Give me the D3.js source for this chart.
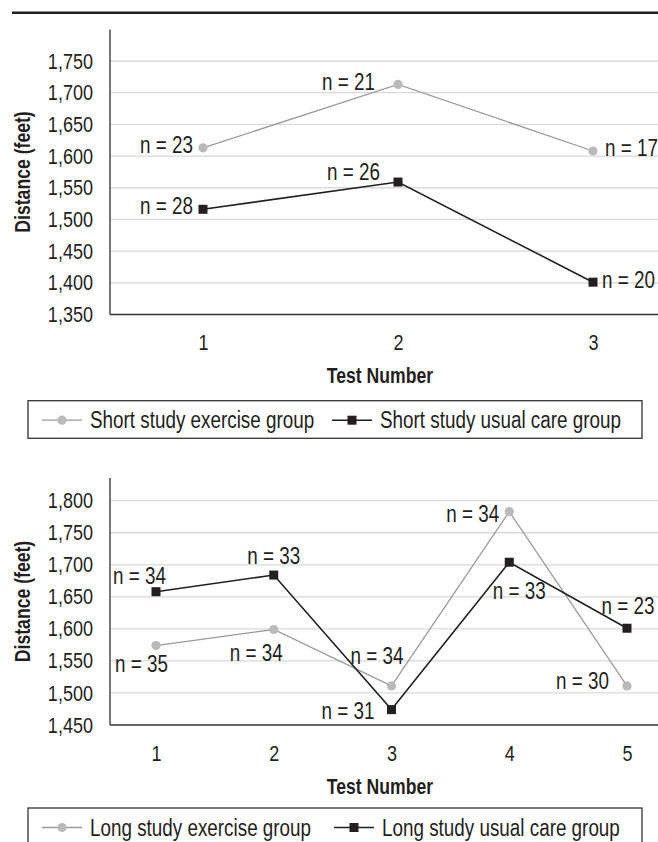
<!DOCTYPE html>
<html>
<head>
<meta charset="utf-8">
<script src="https://cdn.jsdelivr.net/npm/d3@7"></script>
<style>
  body { margin: 0; background: #fff; }
  svg text { font-family: "Liberation Sans", Arial, sans-serif; fill: #231f20; }
</style>
</head>
<body>
<div id="chart"></div>
<script>
// --- data ---
const shortTests = [1, 2, 3];
const shortExercise = [1613, 1713, 1608];
const shortExerciseN = [23, 21, 17];
const shortUsual = [1516, 1559, 1401];
const shortUsualN = [28, 26, 20];
const shortTicks = [1350, 1400, 1450, 1500, 1550, 1600, 1650, 1700, 1750];

const longTests = [1, 2, 3, 4, 5];
const longExercise = [1574, 1599, 1511, 1783, 1511];
const longExerciseN = [35, 34, 34, 34, 30];
const longUsual = [1658, 1684, 1474, 1704, 1601];
const longUsualN = [34, 33, 31, 33, 23];
const longTicks = [1450, 1500, 1550, 1600, 1650, 1700, 1750, 1800];

// where the "n = " labels sit relative to their point: [dx, dy, anchor]
const shortExerciseLbl = [[-10, -3, "end"], [-23, -3, "end"], [12, -3, "start"]];
const shortUsualLbl = [[-10, -3, "end"], [-18, -10, "end"], [9, -2, "start"]];
const longExerciseLbl = [[12, 18, "end"], [9, 23, "end"], [12, -30, "end"], [-10, 2, "end"], [-18, -5, "end"]];
const longUsualLbl = [[10, -16, "end"], [0, -19, "middle"], [-17, 1, "end"], [10, 29, "middle"], [1, -22, "middle"]];

const W = 658, H = 842;
const axisX = 110;
const NARROW = 0.82; // Arial Narrow look: Liberation Sans squeezed sideways
const GRAY = "#9a9a9a", GRAY_DOT = "#bababa", BLACK = "#231f20";

const svg = d3.select("#chart").append("svg")
    .attr("width", W)
    .attr("height", H);

// squeeze text horizontally around its anchor point
function squeeze(sel) {
    sel.each(function () {
        const t = d3.select(this);
        const x = +t.attr("x") || 0;
        const y = +t.attr("y") || 0;
        const tr = t.attr("transform") || "";
        t.attr("x", null).attr("y", null)
            .attr("transform", `${tr} translate(${x},${y}) scale(${NARROW},1)`);
    });
}

// heavy rule at the top
svg.append("line")
    .attr("x1", 12).attr("x2", W)
    .attr("y1", 12.7).attr("y2", 12.7)
    .attr("stroke", "#231f20")
    .attr("stroke-width", 2.5);

function drawPanel(p) {
    const g = svg.append("g");
    const x = d3.scalePoint().domain(p.tests).range(p.xRange);
    const y = d3.scaleLinear()
        .domain([p.ticks[0], p.ticks[p.ticks.length - 1]])
        .range([p.baseY, p.topTickY]);

    // gridlines
    g.selectAll(".grid")
        .data(p.ticks.slice(1))
        .enter().append("line")
        .attr("x1", axisX).attr("x2", W)
        .attr("y1", d => y(d)).attr("y2", d => y(d))
        .attr("stroke", "#d9d9d9")
        .attr("stroke-width", 1.3);

    // y axis labels
    const ya = g.append("g")
        .attr("transform", `translate(${axisX},0)`)
        .call(d3.axisLeft(y).tickValues(p.ticks).tickSize(0).tickPadding(17).tickFormat(d3.format(",")));
    ya.select(".domain").remove();
    ya.selectAll("text").attr("font-size", 22).attr("font-family", null).attr("fill", null).call(squeeze);

    // x axis labels
    const xa = g.append("g")
        .attr("transform", `translate(0,${p.baseY})`)
        .call(d3.axisBottom(x).tickSize(0).tickPadding(20));
    xa.select(".domain").remove();
    xa.selectAll("text").attr("font-size", 22).attr("font-family", null).attr("fill", null).call(squeeze);

    // axis lines
    g.append("line")
        .attr("x1", axisX).attr("x2", axisX)
        .attr("y1", p.plotTop).attr("y2", p.baseY)
        .attr("stroke", "#555").attr("stroke-width", 1.6);
    g.append("line")
        .attr("x1", axisX).attr("x2", W)
        .attr("y1", p.baseY).attr("y2", p.baseY)
        .attr("stroke", "#333").attr("stroke-width", 1.6);

    // axis titles
    g.append("text")
        .attr("transform", `translate(30,${(p.plotTop + p.baseY) / 2}) rotate(-90)`)
        .attr("text-anchor", "middle")
        .attr("font-size", 21.5)
        .attr("font-weight", "bold")
        .text("Distance (feet)")
        .call(squeeze);
    g.append("text")
        .attr("x", 380).attr("y", p.baseY + 61)
        .attr("dy", "0.35em")
        .attr("text-anchor", "middle")
        .attr("font-size", 21.5)
        .attr("font-weight", "bold")
        .text("Test Number")
        .call(squeeze);

    // series
    p.series.forEach(s => {
        const line = d3.line()
            .x((d, i) => x(p.tests[i]))
            .y(d => y(d));
        g.append("path")
            .datum(s.values)
            .attr("d", line)
            .attr("fill", "none")
            .attr("stroke", s.stroke)
            .attr("stroke-width", s.width);

        if (s.marker === "circle") {
            g.selectAll(null).data(s.values).enter().append("circle")
                .attr("cx", (d, i) => x(p.tests[i]))
                .attr("cy", d => y(d))
                .attr("r", 4.6)
                .attr("fill", GRAY_DOT);
        } else {
            g.selectAll(null).data(s.values).enter().append("rect")
                .attr("x", (d, i) => x(p.tests[i]) - 4.5)
                .attr("y", d => y(d) - 4.5)
                .attr("width", 9).attr("height", 9)
                .attr("fill", BLACK);
        }

        g.selectAll(null).data(s.values).enter().append("text")
            .attr("x", (d, i) => x(p.tests[i]) + s.lbl[i][0])
            .attr("y", (d, i) => y(d) + s.lbl[i][1])
            .attr("dy", "0.35em")
            .attr("text-anchor", (d, i) => s.lbl[i][2])
            .attr("font-size", 23)
            .text((d, i) => `n = ${s.n[i]}`)
            .call(squeeze);
    });

    // legend
    const lg = g.append("g").attr("transform", `translate(28,${p.legendTop})`);
    lg.append("rect")
        .attr("width", 614).attr("height", 37.6)
        .attr("fill", "none")
        .attr("stroke", "#333").attr("stroke-width", 1.3);
    p.series.forEach(s => {
        const it = lg.append("g").attr("transform", `translate(${s.legendX - 28},19.5)`);
        it.append("line")
            .attr("x1", 0).attr("x2", 40)
            .attr("stroke", s.stroke).attr("stroke-width", s.width);
        if (s.marker === "circle") {
            it.append("circle").attr("cx", 20).attr("r", 4.6).attr("fill", GRAY_DOT);
        } else {
            it.append("rect").attr("x", 15.5).attr("y", -4.5).attr("width", 9).attr("height", 9).attr("fill", BLACK);
        }
        it.append("text")
            .attr("x", 48).attr("dy", "0.35em")
            .attr("font-size", 23)
            .text(s.name)
            .call(squeeze);
    });
}

drawPanel({
    tests: shortTests,
    ticks: shortTicks,
    xRange: [203, 593],
    baseY: 314.5,
    topTickY: 61,
    plotTop: 29.5,
    legendTop: 400.7,
    series: [
        { name: "Short study exercise group", values: shortExercise, n: shortExerciseN, lbl: shortExerciseLbl,
          stroke: GRAY, width: 1.3, marker: "circle", legendX: 42 },
        { name: "Short study usual care group", values: shortUsual, n: shortUsualN, lbl: shortUsualLbl,
          stroke: BLACK, width: 1.6, marker: "square", legendX: 332 }
    ]
});

drawPanel({
    tests: longTests,
    ticks: longTicks,
    xRange: [156, 627],
    baseY: 725,
    topTickY: 500.7,
    plotTop: 478,
    legendTop: 808,
    series: [
        { name: "Long study exercise group", values: longExercise, n: longExerciseN, lbl: longExerciseLbl,
          stroke: GRAY, width: 1.3, marker: "circle", legendX: 42 },
        { name: "Long study usual care group", values: longUsual, n: longUsualN, lbl: longUsualLbl,
          stroke: BLACK, width: 1.6, marker: "square", legendX: 334 }
    ]
});
</script>
</body>
</html>
